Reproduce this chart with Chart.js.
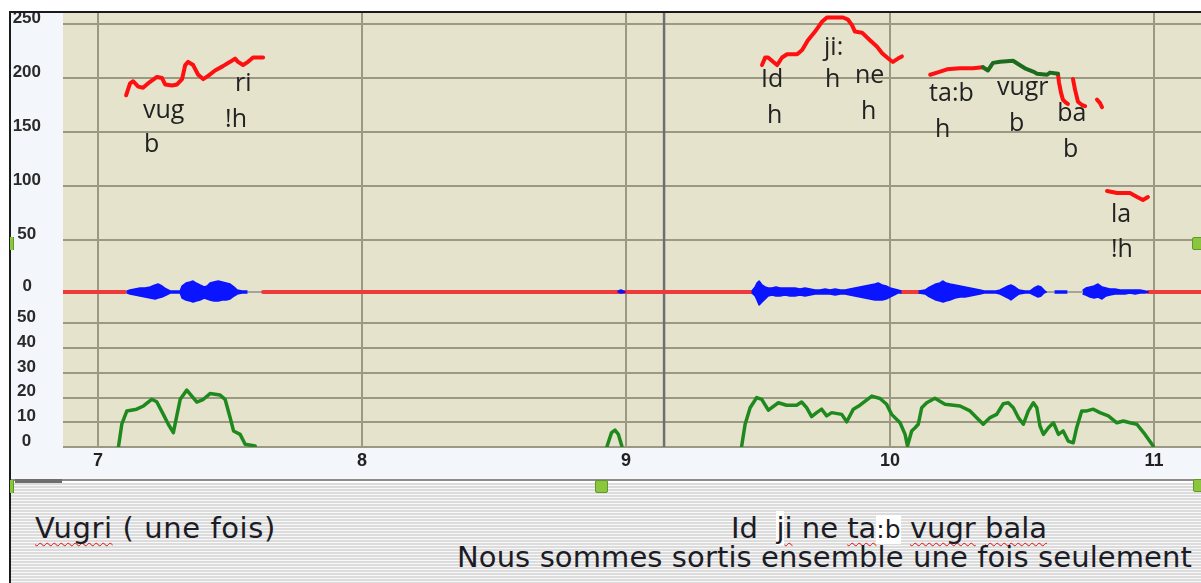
<!DOCTYPE html>
<html>
<head>
<meta charset="utf-8">
<script src="https://cdn.jsdelivr.net/npm/chart.js@4.4.1/dist/chart.umd.min.js"></script>
<style>
html, body { margin: 0; padding: 0; background: #fff; width: 1201px; height: 583px; overflow: hidden; position: relative; }
.abs { position: absolute; }
#frameTop { left: 9px; top: 11px; width: 1192px; height: 2px; background: #1a1a1a; }
#frameLeft { left: 9px; top: 11px; width: 2px; height: 572px; background: #1a1a1a; }
#wrap { left: 11px; top: 13px; width: 1190px; height: 462px; }
#chart { background: #f3f6fb; }
#gap { left: 11px; top: 475px; width: 1190px; height: 5px; background: #f6f7f9; }
#track { left: 11px; top: 479px; width: 1190px; height: 2px; background: #8c8c8c; }
#thumb { left: 15px; top: 479px; width: 47px; height: 4px; background: #6e6e6e; }
#stripes { left: 11px; top: 483px; width: 1190px; height: 100px;
  background: repeating-linear-gradient(to bottom, #dcdcdc 0px, #dcdcdc 2px, #f8f8f8 2px, #f8f8f8 3px); }
.mark { width: 11px; height: 11px; background: #8cc63f; border: 1px solid #5e9a26; border-radius: 2px; }
.edge { width: 3px; height: 13px; background: #8cc63f; border-right: 1px solid #5e9a26; }
.txt { font-family: 'DejaVu Sans', sans-serif; font-size: 29px; line-height: 34px; color: #1c1c26; white-space: pre; }
.sq { text-decoration: underline wavy #e01010; text-decoration-thickness: 1px; text-underline-offset: 4px; text-decoration-skip-ink: none; }
.wb { background: #fff; }
.sm { font-size: 25px; }
</style>
</head>
<body>
<div id="wrap" class="abs"><canvas id="chart" width="1190" height="462"></canvas></div>
<div id="gap" class="abs"></div>
<div id="stripes" class="abs"></div>
<div id="track" class="abs"></div>
<div id="thumb" class="abs"></div>
<div id="frameTop" class="abs"></div>
<div id="frameLeft" class="abs"></div>
<div class="abs edge" style="left:10px; top:237px;"></div>
<div class="abs mark" style="left:1192px; top:237px;"></div>
<div class="abs edge" style="left:10px; top:480px;"></div>
<div class="abs mark" style="left:595px; top:480px;"></div>
<div class="abs mark" style="left:1193px; top:479px;"></div>
<div class="abs txt" style="left:35px; top:511px; letter-spacing:0.6px;"><span class="sq">Vugri</span> ( une fois)</div>
<div class="abs txt" style="left:731px; top:511px;">Id  <span class="wb">j</span><span class="sq">i</span> ne <span class="sq">ta</span><span class="wb sm">:b</span> <span class="sq">vugr</span> <span class="sq">bala</span></div>
<div class="abs txt" style="left:457px; top:540px; letter-spacing:0.1px;">Nous sommes sortis ensemble une fois seulement</div>

<script>
// axes
const timeMin = 6.867, timeMax = 11.178;
const timeTicks = [7, 8, 9, 10, 11];
const cursorTime = 9.144;
const pitchMin = 22.2, pitchMax = 260.2;
const pitchTicks = [50, 100, 150, 200, 250];
const waveMin = -22, waveMax = 22;
const waveTicks = [0];
const loudMin = 0, loudMax = 53.8;
const loudTicks = [0, 10, 20, 30, 40, 50];

// pitch contour (Hz), null = break
const pitchTimes = [
  7.106, 7.121, 7.133, 7.152, 7.170, 7.189, 7.223, 7.242, 7.254, 7.280, 7.299, 7.318, 7.330, 7.341,
  7.360, 7.379, 7.398, 7.417, 7.443, 7.473, 7.500, 7.519, 7.530, 7.549, 7.568, 7.587, 7.625, null,
  9.515, 9.527, 9.538, 9.557, 9.572, 9.591, 9.610, 9.648, 9.667, 9.689, 9.716, 9.742, 9.761, 9.799,
  9.822, 9.841, 9.856, 9.867, 9.894, 9.924, 9.951, 9.970, 9.989, 10.004, null,
  10.011, 10.030, 10.045, null,
  10.152, 10.178, 10.216, 10.265, 10.314, 10.352, null,
  10.636, 10.640, 10.648, 10.655, 10.667, 10.674, null,
  10.693, 10.701, 10.712, 10.727, 10.739, null,
  10.784, 10.795, 10.803, null,
  10.822, 10.860, 10.909, 10.936, 10.958, 10.977
];
const pitchHz = [
  184, 195, 197, 192, 191, 195, 201, 200, 194, 193, 194, 199, 212, 215,
  212, 203, 199, 202, 207, 211, 215, 218, 215, 212, 215, 219, 219, null,
  212, 219, 219, 215, 212, 219, 222, 222, 226, 235, 243, 252, 256, 256,
  256, 254, 249, 243, 242, 235, 229, 223, 219, 216, null,
  215, 218, 220, null,
  203, 205, 208, 209, 209, 210, null,
  204, 196, 186, 180, 177, 176, null,
  199, 189, 178, 175, 174, null,
  180, 177, 173, null,
  95.4, 93.5, 93.5, 89.8, 87, 89.8
];
const pitchGreenTimes = [10.352, 10.371, 10.390, 10.417, 10.466, 10.485, 10.511, 10.542, 10.557, 10.595, 10.606, 10.636];
const pitchGreenHz = [210, 207, 214, 215, 216, 213, 209, 206, 204, 203, 205, 204];

// waveform envelope
const waveTimes = [
  7.110, 7.121, 7.140, 7.159, 7.178, 7.197, 7.216, 7.227, 7.242, 7.258, 7.273, 7.292, 7.311, 7.318, 7.333, 7.348,
  7.360, 7.371, 7.386, 7.402, 7.413, 7.424, 7.439, 7.455, 7.470, 7.485, 7.500, 7.515, 7.527, 7.545, 7.564, null,
  8.970, 8.981, 8.996, null,
  9.477, 9.489, 9.496, 9.504, 9.515, 9.527, 9.538, 9.553, 9.568, 9.583, 9.602, 9.621, 9.640, 9.659, 9.678, 9.697,
  9.716, 9.735, 9.754, 9.773, 9.792, 9.811, 9.830, 9.848, 9.867, 9.886, 9.905, 9.924, 9.943, 9.955, 9.970, 9.985,
  10.000, 10.015, 10.030, 10.042, null,
  10.110, 10.133, 10.144, 10.159, 10.174, 10.189, 10.201, 10.212, 10.227, 10.246, 10.265, 10.284, 10.303, 10.322,
  10.341, 10.356, 10.379, 10.402, 10.417, 10.432, 10.447, 10.458, 10.473, 10.489, 10.511, 10.530, 10.545, 10.561,
  10.572, 10.583, 10.591, null,
  10.625, 10.648, 10.670, null,
  10.731, 10.742, 10.758, 10.773, 10.788, 10.803, 10.818, 10.833, 10.852, 10.871, 10.890, 10.909, 10.928, 10.947,
  10.966, 10.977
];
const waveHigh = [
  1, 2, 3, 4, 4, 5, 7, 8, 6, 3, 1, 1, 1, 6, 9, 10,
  11, 9, 7, 5, 6, 9, 10, 11, 10, 9, 8, 5, 2, 1, 1, null,
  1, 2, 0, null,
  1, 5, 9, 11, 7, 5, 4, 4, 5, 4, 4, 4, 4, 3, 4, 3,
  2, 2, 3, 2, 3, 2, 2, 3, 4, 5, 6, 7, 8, 9, 7, 6,
  4, 3, 2, 1, null,
  1, 2, 4, 6, 8, 9, 11, 9, 8, 7, 6, 5, 4, 3,
  2, 1, 1, 1, 2, 4, 6, 7, 5, 2, 1, 1, 4, 6,
  5, 2, 0, null,
  1, 1, 1, null,
  2, 4, 5, 6, 8, 5, 4, 3, 3, 2, 2, 2, 2, 2,
  1, 0
];
const waveLow = [
  -1, -2, -3, -4, -5, -6, -7, -6, -5, -3, -1, -1, -1, -6, -8, -9,
  -10, -9, -8, -6, -7, -8, -9, -9, -8, -8, -7, -4, -2, -1, -1, null,
  0, -1, 0, null,
  -1, -4, -8, -13, -10, -7, -4, -3, -4, -4, -3, -4, -4, -3, -4, -3,
  -2, -2, -2, -2, -3, -2, -2, -3, -4, -5, -6, -7, -8, -8, -8, -7,
  -5, -3, -1, -1, null,
  -1, -2, -4, -6, -8, -9, -10, -9, -8, -6, -5, -5, -4, -3,
  -2, -1, -1, -1, -2, -4, -6, -8, -5, -2, -1, -1, -3, -5,
  -4, -1, 0, null,
  -1, -1, -1, null,
  -2, -3, -5, -6, -5, -7, -4, -3, -2, -2, -2, -1, -2, -1,
  -1, 0
];
const silenceStarts = [6.867, 7.625, 10.045, 10.977];
const silenceEnds = [7.102, 9.477, 10.125, 11.178];

// loudness
const loudTimes = [
  7.077, 7.090, 7.109, 7.146, 7.172, 7.203, 7.222, 7.247, 7.266, 7.285, 7.298, 7.311, 7.336, 7.355,
  7.374, 7.399, 7.424, 7.462, 7.481, 7.500, 7.513, 7.538, 7.557, 7.595, null,
  8.927, 8.945, 8.958, 8.971, 8.984, null,
  9.438, 9.451, 9.470, 9.495, 9.514, 9.539, 9.577, 9.608, 9.646, 9.665, 9.684, 9.703, 9.722, 9.741,
  9.760, 9.779, 9.817, 9.836, 9.861, 9.886, 9.931, 9.962, 9.987, 10.006, 10.038, 10.057, 10.066, 10.082,
  10.095, 10.107, 10.120, 10.139, 10.170, 10.208, 10.265, 10.303, 10.334, 10.353, 10.379, 10.404, 10.429, 10.448,
  10.467, 10.486, 10.505, 10.524, 10.543, 10.556, 10.568, 10.581, 10.600, 10.619, 10.638, 10.656, 10.675, 10.694,
  10.707, 10.726, 10.745, 10.770, 10.795, 10.827, 10.859, 10.884, 10.909, 10.935, 10.966, 10.997
];
const loudValues = [
  0, 9.4, 14.6, 15.3, 16.6, 19.3, 18.3, 13.2, 9.2, 5.8, 12.6, 19.3, 23.0, 20.6,
  18.2, 19.3, 21.6, 21.0, 19.3, 11.9, 6.5, 5.1, 1.1, 0.4, null,
  0, 5.8, 6.8, 5.1, 0.4, null,
  0.4, 9.2, 15.9, 20.0, 19.3, 14.9, 17.9, 16.9, 16.9, 18.2, 15.9, 12.3, 13.9, 15.3,
  12.6, 13.9, 13.2, 10.2, 15.3, 16.9, 20.6, 19.6, 17.3, 13.2, 9.8, 5.1, 0.4, 6.5,
  7.8, 9.2, 15.9, 17.9, 19.7, 17.3, 16.6, 14.6, 11.2, 9.2, 11.9, 13.2, 17.5, 17.9,
  15.9, 11.9, 9.2, 14.6, 17.9, 15.9, 8.5, 5.1, 7.8, 9.8, 5.1, 6.5, 2.4, 1.7,
  7.8, 14.6, 14.6, 15.3, 13.9, 12.6, 9.8, 10.5, 9.8, 9.2, 5.1, 0.4
];

// transcription written on the pitch pane
const labelTexts = ['vug', 'b', 'ri', '!h', 'Id', 'h', 'ji:', 'h', 'ne', 'h', 'ta:b', 'h', 'vugr', 'b', 'ba', 'b', 'la', '!h'];
const labelTimes = [7.170, 7.174, 7.519, 7.481, 9.511, 9.534, 9.750, 9.754, 9.867, 9.890, 10.148, 10.170, 10.405, 10.451, 10.633, 10.655, 10.837, 10.837];
const labelHz = [163.0, 131.5, 188.0, 154.6, 191.7, 158.3, 221.3, 191.7, 195.4, 162.0, 178.7, 145.4, 184.3, 150.9, 160.2, 126.9, 66.7, 34.3];

function toPoints(times, values) {
  return times.map((t, i) => ({ x: t === null ? times[i - 1] : t, y: values[i] }));
}

function silencePoints() {
  const pts = [];
  silenceStarts.forEach((s, i) => {
    pts.push({ x: s, y: 0 }, { x: silenceEnds[i], y: 0 }, { x: silenceEnds[i], y: null });
  });
  return pts;
}

const gridColor = '#9b9883';
const tickFont = { family: "'Liberation Sans', Arial, sans-serif", size: 17, weight: 'bold' };

// the panes share one column of left axes; tick padding only centres the labels
function yAxis(min, max, ticks, weight, pad, showGrid) {
  return {
    type: 'linear',
    position: 'left',
    stack: 'panes',
    stackWeight: weight,
    min: min,
    max: max,
    afterBuildTicks: s => { s.ticks = ticks.map(v => ({ value: v })); },
    afterFit: s => { s.width = 52; s.paddingTop = 0; s.paddingBottom = 0; },
    border: { display: false },
    grid: { display: showGrid, color: gridColor, lineWidth: 2, drawTicks: false },
    ticks: { font: tickFont, color: '#2a2a2a', crossAlign: 'center', padding: pad, labelOffset: -6, autoSkip: false }
  };
}

const panePlugin = {
  id: 'panes',
  beforeDraw(chart) {
    const { ctx, chartArea: a } = chart;
    ctx.save();
    ctx.fillStyle = '#e6e3cd';
    ctx.fillRect(a.left, a.top, a.right - a.left, a.bottom - a.top);
    ctx.restore();
  },
  beforeDatasetsDraw(chart) {
    // cursor
    const { ctx, chartArea: a, scales } = chart;
    const x = scales.x.getPixelForValue(cursorTime);
    ctx.save();
    ctx.strokeStyle = '#6f6f6f';
    ctx.lineWidth = 2.5;
    ctx.beginPath();
    ctx.moveTo(x, a.top);
    ctx.lineTo(x, a.bottom);
    ctx.stroke();
    ctx.restore();
  },
  afterDatasetsDraw(chart) {
    const { ctx, scales } = chart;
    ctx.save();
    ctx.font = "25px 'Open Sans', sans-serif";
    ctx.fillStyle = '#222';
    ctx.textAlign = 'left';
    ctx.textBaseline = 'alphabetic';
    labelTexts.forEach((t, i) => {
      ctx.fillText(t, scales.x.getPixelForValue(labelTimes[i]), scales.yPitch.getPixelForValue(labelHz[i]));
    });
    ctx.restore();
  }
};

new Chart(document.getElementById('chart'), {
  type: 'line',
  data: {
    datasets: [
      { data: toPoints(pitchGreenTimes, pitchGreenHz), yAxisID: 'yPitch', borderColor: '#1d6b1d', borderWidth: 4, order: 0 },
      { data: toPoints(pitchTimes, pitchHz), yAxisID: 'yPitch', borderColor: '#ff1010', borderWidth: 4, order: 1 },
      { data: toPoints(loudTimes, loudValues), yAxisID: 'yLoud', borderColor: '#1e8a1e', borderWidth: 3.5, order: 2 },
      { data: toPoints(waveTimes, waveHigh), yAxisID: 'yWave', borderColor: '#0a14ff', borderWidth: 1.5,
        backgroundColor: '#0a14ff', fill: '+1', order: 3 },
      { data: toPoints(waveTimes, waveLow), yAxisID: 'yWave', borderColor: '#0a14ff', borderWidth: 1.5, order: 4 },
      { data: silencePoints(), yAxisID: 'yWave', borderColor: '#ee3a3a', borderWidth: 4, order: 5 },
      { data: [{ x: timeMin, y: 0 }, { x: timeMax, y: 0 }], yAxisID: 'yWave', borderColor: '#8e8e8e', borderWidth: 1.5, order: 6 }
    ]
  },
  options: {
    responsive: false,
    devicePixelRatio: 1,
    animation: false,
    spanGaps: false,
    layout: { padding: 0, autoPadding: false },
    elements: { point: { radius: 0 }, line: { tension: 0, borderCapStyle: 'round', borderJoinStyle: 'round' } },
    plugins: { legend: { display: false }, tooltip: { enabled: false } },
    scales: {
      x: {
        type: 'linear',
        position: 'bottom',
        min: timeMin,
        max: timeMax,
        afterBuildTicks: s => { s.ticks = timeTicks.map(v => ({ value: v })); },
        afterFit: s => { s.height = 28; s.paddingLeft = 0; s.paddingRight = 0; },
        border: { display: false },
        grid: { color: gridColor, lineWidth: 2, drawTicks: false },
        ticks: { font: { family: "'Liberation Sans Narrow', 'Liberation Sans', sans-serif", size: 18, weight: 'bold' },
                 color: '#222', padding: 3, maxRotation: 0, autoSkip: false }
      },
      // stacked bottom-up: last defined sits on top
      yLoud: yAxis(loudMin, loudMax, loudTicks, 133, 27, true),
      yWave: yAxis(waveMin, waveMax, waveTicks, 44, 31, false),
      yPitch: yAxis(pitchMin, pitchMax, pitchTicks, 257, 22, true)
    }
  },
  plugins: [panePlugin]
});
</script>
</body>
</html>
